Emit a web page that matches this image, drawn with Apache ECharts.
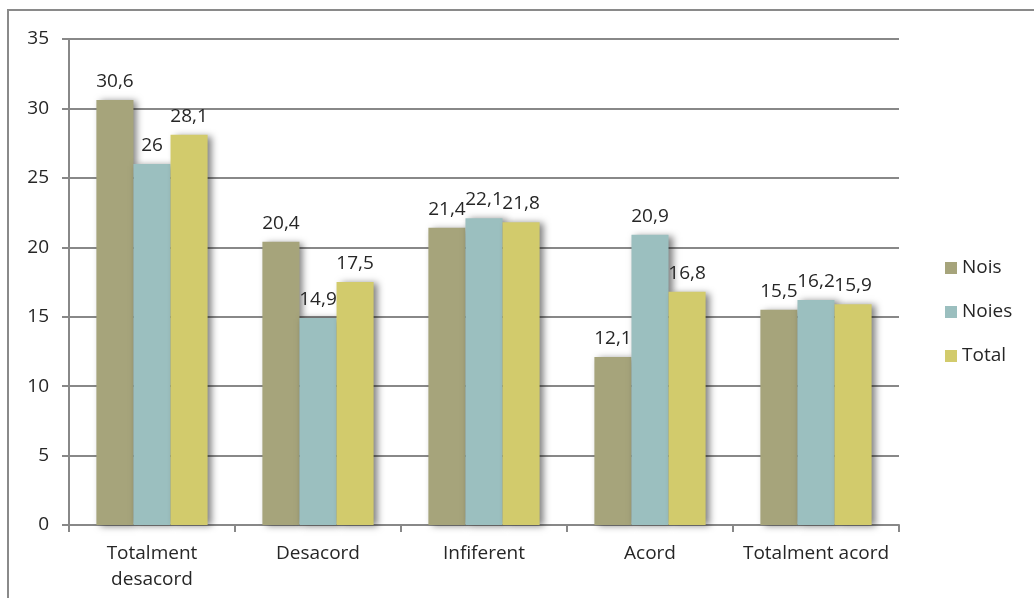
<!DOCTYPE html>
<html>
<head>
<meta charset="utf-8">
<script src="https://cdn.jsdelivr.net/npm/echarts@6/dist/echarts.min.js"></script>
<style>
  html, body { margin: 0; padding: 0; background: #fff; }
  #chart { width: 1034px; height: 598px; }
</style>
</head>
<body>
<div id="chart"></div>
<script>
var categories = ["Totalment\ndesacord", "Desacord", "Infiferent", "Acord", "Totalment acord"];
var nois = [30.6, 20.4, 21.4, 12.1, 15.5];
var noies = [26, 14.9, 22.1, 20.9, 16.2];
var total = [28.1, 17.5, 21.8, 16.8, 15.9];
var seriesNames = ["Nois", "Noies", "Total"];
var colors = ["#a6a47b", "#9bbfbf", "#d2cb6c"];

var font = "'Open Sans', sans-serif";
var txt = "#262626";
var chart = echarts.init(document.getElementById("chart"));

function bar(name, data, color) {
  return {
    name: name,
    type: "bar",
    data: data,
    barGap: "0%",
    barCategoryGap: "33%",
    itemStyle: {
      color: color,
      shadowColor: "rgba(0,0,0,0.5)",
      shadowBlur: 7,
      shadowOffsetX: 4,
      shadowOffsetY: 1
    },
    label: {
      show: true,
      position: "top",
      distance: 9,
      color: txt,
      fontFamily: font,
      fontSize: 19,
      formatter: function (p) { return String(p.value).replace(".", ","); }
    }
  };
}

var option = {
  animation: false,
  color: colors,
  graphic: [{
    type: "rect",
    shape: { x: 8, y: 10, width: 1100, height: 700 },
    style: { fill: "none", stroke: "#8a8a8a", lineWidth: 2 },
    silent: true
  }],
  grid: { left: 69, right: 135, top: 39, bottom: 73 },
  legend: {
    orient: "vertical",
    left: 940,
    top: 251,
    itemWidth: 12,
    itemHeight: 12,
    itemGap: 20,
    icon: "rect",
    textStyle: { fontFamily: font, fontSize: 19, color: txt, lineHeight: 24 },
    data: seriesNames
  },
  xAxis: {
    type: "category",
    data: categories,
    axisLine: { lineStyle: { color: "#888", width: 2 } },
    axisTick: { show: true, length: 7, lineStyle: { color: "#888", width: 2 } },
    axisLabel: { interval: 0, fontFamily: font, fontSize: 19, color: txt, margin: 16, lineHeight: 26 }
  },
  yAxis: {
    type: "value",
    min: 0,
    max: 35,
    interval: 5,
    axisLine: { show: true, lineStyle: { color: "#888", width: 2 } },
    axisTick: { show: true, length: 7, lineStyle: { color: "#888", width: 2 } },
    splitLine: { lineStyle: { color: "#888", width: 2 } },
    axisLabel: { fontFamily: font, fontSize: 19, color: txt, margin: 20 }
  },
  series: [
    bar(seriesNames[0], nois, colors[0]),
    bar(seriesNames[1], noies, colors[1]),
    bar(seriesNames[2], total, colors[2])
  ]
};
chart.setOption(option);
</script>
</body>
</html>
